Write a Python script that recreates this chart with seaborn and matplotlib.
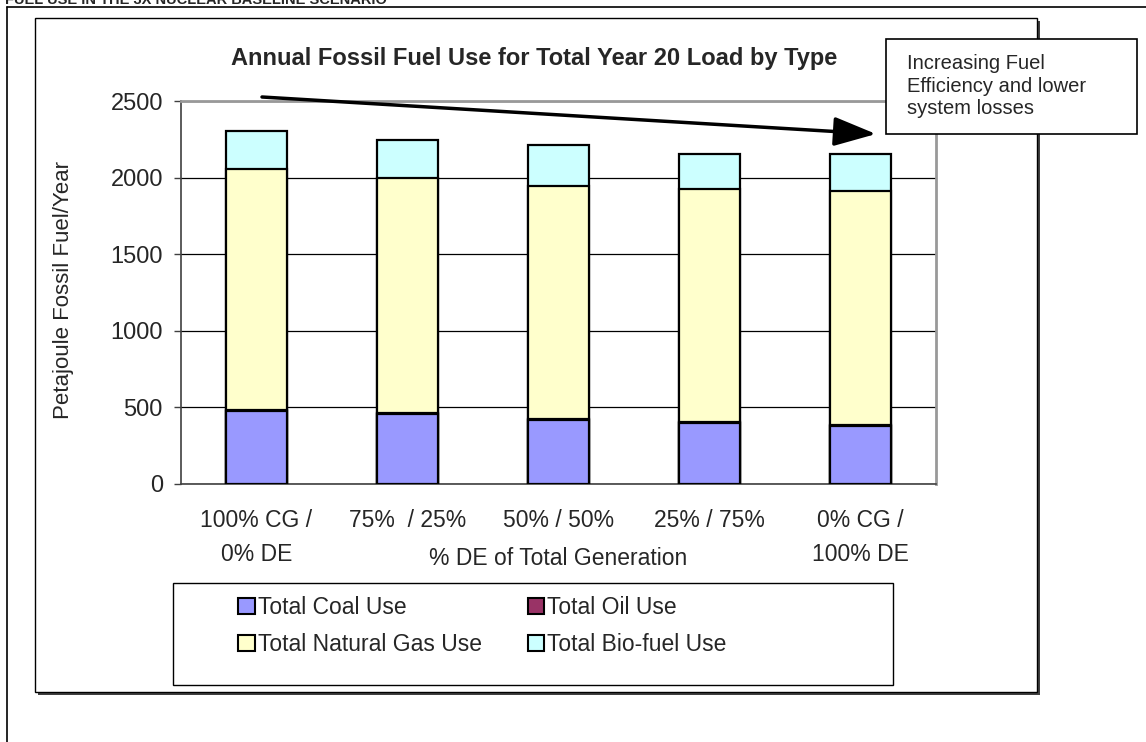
import matplotlib
matplotlib.use('Agg')
import matplotlib.pyplot as plt
import matplotlib.patches as mpatches
import numpy as np
import pandas as pd
import seaborn as sns

##################################################################
categories = ['100% CG /\n0% DE', '75%  / 25%', '50% / 50%', '25% / 75%', '0% CG /\n100% DE']
coal = [477, 459, 418, 398, 380]
oil = [5, 5, 5, 5, 5]
gas = [1573, 1536, 1522, 1527, 1528]
bio = [249, 248, 267, 226, 243]
series = ['Total Coal Use', 'Total Oil Use', 'Total Natural Gas Use', 'Total Bio-fuel Use']
colors = ['#9999FF', '#993366', '#FFFFCC', '#CCFFFF']
yticks = [0, 500, 1000, 1500, 2000, 2500]
title = 'Annual Fossil Fuel Use for Total Year 20 Load by Type'
header = 'FUEL USE IN THE 3X NUCLEAR BASELINE SCENARIO'
note = 'Increasing Fuel\nEfficiency and lower\nsystem losses'
##################################################################
sns.set_style('white')
plt.rcParams['font.family'] = ['Liberation Sans', 'DejaVu Sans']

df = pd.DataFrame({'cat': categories, 'coal': coal, 'oil': oil, 'gas': gas, 'bio': bio})
cum = df[['coal', 'oil', 'gas', 'bio']].cumsum(axis=1)

W, H = 1146, 742
fig = plt.figure(figsize=(W/100, H/100), dpi=100)

# background: outer frame + chart area (pixel coords)
bg = fig.add_axes([0, 0, 1, 1], zorder=0)
bg.set_xlim(0, W); bg.set_ylim(H, 0); bg.axis('off')
bg.plot([7, 7], [7, H], color='black', lw=1.2)
bg.plot([7, W], [7, 7], color='black', lw=1.2)
bg.text(5, 4, header, fontsize=10.5, weight='bold', va='baseline', ha='left')
bg.add_patch(mpatches.Rectangle((38, 21), 1002, 674, facecolor='#404040', edgecolor='none'))
bg.add_patch(mpatches.Rectangle((35, 18), 1002, 674, facecolor='white', edgecolor='black', lw=1))
bg.text(534, 58, title, ha='center', va='center', fontsize=17, weight='bold')
# legend frame
bg.add_patch(mpatches.Rectangle((173, 583), 720, 102, facecolor='white', edgecolor='black', lw=1))

############################################################################
x0, x1, y0, y1 = 181, 936, 101.3, 483.8
ax = fig.add_axes([x0/W, 1 - y1/H, (x1 - x0)/W, (y1 - y0)/H], zorder=1)
ax.set_facecolor('white')
for key, c in reversed(list(zip(['coal', 'oil', 'gas', 'bio'], colors))):
    sns.barplot(x=df['cat'], y=cum[key], color=c, saturation=1, edgecolor='black',
                linewidth=1.6, width=0.4, errorbar=None, ax=ax, zorder=3)

ax.set_ylim(0, 2500)
ax.set_yticks(yticks)
ax.set_yticklabels([str(v) for v in yticks], fontsize=17)
ax.set_xlim(-0.5, 4.5)
ax.set_xticks(range(len(categories)))
ax.set_xticklabels(categories, fontsize=16.5, linespacing=1.6)
ax.set_xticks(np.arange(-0.5, 5, 1), minor=True)
ax.tick_params(axis='x', which='major', length=0, pad=18.5)
ax.tick_params(axis='x', which='minor', length=7, direction='out', color='#404040', width=1)
ax.tick_params(axis='y', length=5, direction='out', color='#404040', width=1, pad=8, left=True)
ax.yaxis.grid(True, color='black', lw=0.9)
ax.set_axisbelow(True)
for s in ['left', 'bottom']:
    ax.spines[s].set_color('#404040'); ax.spines[s].set_linewidth(1.2)
for s in ['top', 'right']:
    ax.spines[s].set_color('#999999'); ax.spines[s].set_linewidth(2)

ax.set_xlabel('% DE of Total Generation', fontsize=16.5)
ax.xaxis.set_label_coords(0.5, -0.194)
ax.xaxis.label.set_va('center')
ax.set_ylabel('Petajoule Fossil Fuel/Year', fontsize=16)
ax.yaxis.set_label_coords(-0.155, 0.507)
ax.yaxis.label.set_va('center')

############################################################################
handles = [mpatches.Patch(facecolor=colors[i], edgecolor='black', lw=1.5, label=series[i]) for i in [0, 2, 1, 3]]
fig.legend(handles=handles, ncol=2, loc='upper left', bbox_to_anchor=(227/W, 1 - 585/H),
           frameon=False, fontsize=16.5, handlelength=0.7, handleheight=0.7,
           handletextpad=0.15, columnspacing=2.0, labelspacing=0.6, borderpad=0)

############################################################################
ov = fig.add_axes([0, 0, 1, 1], zorder=2)
ov.set_xlim(0, W); ov.set_ylim(H, 0); ov.axis('off'); ov.patch.set_alpha(0)
ov.annotate('', xy=(876, 134), xytext=(262, 97),
            arrowprops=dict(arrowstyle='-|>,head_length=1.3,head_width=0.45', lw=2.5,
                            color='black', shrinkA=0, shrinkB=0, mutation_scale=20))
ov.add_patch(mpatches.Rectangle((886, 39), 251, 95, facecolor='white', edgecolor='black', lw=1.2))
ov.text(907, 54, note, fontsize=14.5, va='top', ha='left', linespacing=1.25)

fig.savefig('out.png', dpi=100)
